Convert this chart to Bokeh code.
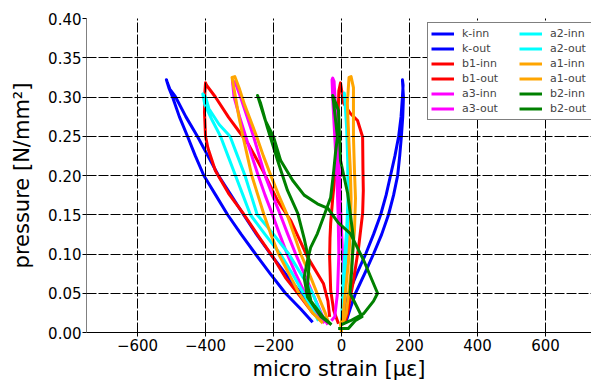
from bokeh.plotting import figure
from bokeh.models import FixedTicker, Range1d, Legend, LegendItem, PrintfTickFormatter
from bokeh.embed import file_html
from bokeh.resources import INLINE

# ---------------- data ----------------
x_ticks = [-600, -400, -200, 0, 200, 400, 600]
x_tick_labels = ["\u2212600", "\u2212400", "\u2212200", "0", "200", "400", "600"]
y_ticks = [0.0, 0.05, 0.10, 0.15, 0.20, 0.25, 0.30, 0.35, 0.40]

k_inn_x = [-85, -120, -165, -210, -253, -295, -335, -370, -405, -430, -453, -477, -497, -508, -515,
           -512, -505, -488, -458, -424, -393, -362, -325, -288, -250, -209, -165, -120, -90, -70]
k_inn_y = [0.013, 0.030, 0.050, 0.075, 0.100, 0.125, 0.150, 0.175, 0.200, 0.225, 0.250, 0.275, 0.300, 0.312, 0.322,
           0.318, 0.310, 0.300, 0.275, 0.250, 0.225, 0.200, 0.175, 0.150, 0.125, 0.100, 0.075, 0.050, 0.030, 0.020]

k_out_x = [5, 12, 21, 45, 71, 94, 115, 131, 144, 157, 168, 175, 179, 181, 179,
           182, 180, 176, 171, 165, 153, 138, 118, 94, 68, 41, 25, 12]
k_out_y = [0.010, 0.030, 0.050, 0.075, 0.100, 0.125, 0.150, 0.175, 0.200, 0.225, 0.250, 0.275, 0.300, 0.315, 0.322,
           0.300, 0.275, 0.250, 0.225, 0.200, 0.175, 0.150, 0.125, 0.100, 0.075, 0.050, 0.030, 0.012]

b1_inn_x = [-60, -85, -120, -165, -200, -240, -288, -332, -371, -393, -400, -403, -402, -400,
            -397, -371, -332, -303, -274, -230, -188, -150, -100, -53, -40, -35]
b1_inn_y = [0.015, 0.025, 0.045, 0.070, 0.095, 0.120, 0.151, 0.177, 0.206, 0.235, 0.250, 0.280, 0.305, 0.318,
            0.315, 0.300, 0.274, 0.257, 0.240, 0.205, 0.168, 0.143, 0.096, 0.062, 0.040, 0.020]

b1_out_x = [-9, -23, -32, -35, -34, -32, -26, -18, -12, -8, -3,
            6, 26, 47, 62, 63, 64, 62, 50, 35, 26, 18, 10]
b1_out_y = [0.011, 0.028, 0.054, 0.096, 0.120, 0.139, 0.171, 0.206, 0.249, 0.308, 0.318,
            0.292, 0.279, 0.270, 0.249, 0.206, 0.181, 0.152, 0.108, 0.066, 0.045, 0.025, 0.012]

a3_inn_x = [-50, -75, -108, -135, -160, -182, -203, -225, -245, -264, -282, -300, -316, -321,
            -312, -297, -278, -259, -242, -225, -203, -180, -158, -135, -110, -85, -55, -40]
a3_inn_y = [0.012, 0.025, 0.050, 0.075, 0.100, 0.125, 0.150, 0.175, 0.200, 0.225, 0.250, 0.275, 0.300, 0.321,
            0.318, 0.300, 0.275, 0.250, 0.225, 0.200, 0.175, 0.150, 0.125, 0.100, 0.075, 0.050, 0.020, 0.010]

a3_out_x = [-30, -20, -12, -8, -10, -14, -20, -25, -28,
            -26, -22, -18, -12, -6, -2, 3, 8, 5, 0]
a3_out_y = [0.015, 0.020, 0.050, 0.100, 0.150, 0.200, 0.250, 0.290, 0.322,
            0.324, 0.320, 0.290, 0.250, 0.200, 0.150, 0.100, 0.050, 0.020, 0.010]

a2_inn_x = [-68, -80, -112, -145, -180, -225, -268, -290, -312, -334, -356, -380, -402, -408,
            -400, -390, -360, -328, -306, -284, -266, -248, -200, -155, -120, -85, -62, -55]
a2_inn_y = [0.015, 0.025, 0.050, 0.075, 0.100, 0.125, 0.150, 0.175, 0.200, 0.225, 0.250, 0.270, 0.290, 0.304,
            0.300, 0.285, 0.265, 0.250, 0.225, 0.200, 0.175, 0.150, 0.125, 0.100, 0.075, 0.050, 0.025, 0.018]

a2_out_x = [0, 3, 8, 15, 19, 18, 15, 10, 8,
            13, 18, 22, 25, 22, 14, 8, 5]
a2_out_y = [0.010, 0.050, 0.090, 0.130, 0.170, 0.220, 0.260, 0.295, 0.305,
            0.290, 0.260, 0.220, 0.180, 0.130, 0.088, 0.054, 0.020]

a1_inn_x = [-55, -85, -125, -155, -185, -208, -228, -246, -264, -277, -290, -302, -312, -322,
            -314, -300, -285, -250, -230, -208, -185, -160, -140, -120, -95, -72, -48, -38]
a1_inn_y = [0.012, 0.025, 0.050, 0.075, 0.100, 0.125, 0.150, 0.175, 0.200, 0.225, 0.250, 0.275, 0.300, 0.325,
            0.326, 0.310, 0.290, 0.250, 0.225, 0.200, 0.175, 0.150, 0.125, 0.100, 0.075, 0.050, 0.025, 0.012]

a1_out_x = [0, -3, 5, 12, 20, 26, 28, 26, 21, 17, 22,
            28, 35, 35, 35, 38, 41, 38, 30, 22, 14, 5]
a1_out_y = [0.000, 0.010, 0.024, 0.054, 0.088, 0.130, 0.171, 0.206, 0.249, 0.292, 0.325,
            0.326, 0.312, 0.280, 0.249, 0.206, 0.171, 0.130, 0.088, 0.054, 0.024, 0.012]

b2_inn_x = [-30, -53, -90, -100, -95, -110, -129, -159, -188, -218, -238, -247,
            -224, -200, -179, -144, -110, -71, -40, -10, 26, 65, 106, 94, 65, 26, 0]
b2_inn_y = [0.010, 0.019, 0.040, 0.060, 0.090, 0.120, 0.152, 0.181, 0.219, 0.261, 0.292, 0.302,
            0.270, 0.249, 0.219, 0.194, 0.175, 0.164, 0.158, 0.140, 0.126, 0.092, 0.050, 0.040, 0.024, 0.015, 0.010]

b2_out_x = [-10, 20, 40, 60, 25, 30, 35, 18, -3, -9, -26,
            -23, -12, -18, -23, -32, -53, -71, -91, -100, -110, -100, -60, -30]
b2_out_y = [0.005, 0.005, 0.015, 0.020, 0.050, 0.080, 0.120, 0.177, 0.219, 0.283, 0.302,
            0.292, 0.249, 0.228, 0.206, 0.172, 0.147, 0.126, 0.108, 0.092, 0.070, 0.045, 0.020, 0.010]

names = ["k-inn", "k-out", "b1-inn", "b1-out", "a3-inn", "a3-out",
         "a2-inn", "a2-out", "a1-inn", "a1-out", "b2-inn", "b2-out"]
colors = ["#0000ff", "#0000ff", "#ff0000", "#ff0000", "#ff00ff", "#ff00ff",
          "#00ffff", "#00ffff", "#ffa500", "#ffa500", "#008000", "#008000"]
xs = [k_inn_x, k_out_x, b1_inn_x, b1_out_x, a3_inn_x, a3_out_x,
      a2_inn_x, a2_out_x, a1_inn_x, a1_out_x, b2_inn_x, b2_out_x]
ys = [k_inn_y, k_out_y, b1_inn_y, b1_out_y, a3_inn_y, a3_out_y,
      a2_inn_y, a2_out_y, a1_inn_y, a1_out_y, b2_inn_y, b2_out_y]

# ---------------- figure ----------------
p = figure(width=591, height=383, output_backend="svg", toolbar_location=None,
           x_range=Range1d(-750, 735), y_range=Range1d(0, 0.40),
           min_border_left=86, min_border_right=0, min_border_top=18, min_border_bottom=51)
p.outline_line_color = None
p.background_fill_color = "white"

items = []
for name, c, x, y in zip(names, colors, xs, ys):
    r = p.line(x, y, line_color=c, line_width=3, line_join="round")
    items.append(LegendItem(label=name, renderers=[r]))

font = "DejaVu Sans"
p.xaxis.ticker = FixedTicker(ticks=x_ticks)
p.yaxis.ticker = FixedTicker(ticks=y_ticks)
p.xaxis.major_label_overrides = dict(zip(x_ticks, x_tick_labels))
p.yaxis.formatter = PrintfTickFormatter(format="%.2f")
for ax in (p.xaxis[0], p.yaxis[0]):
    ax.major_label_text_font = font
    ax.major_label_text_font_size = "15px"
    ax.major_label_text_color = "black"
    ax.axis_label_text_font = font
    ax.axis_label_text_font_size = "21px"
    ax.axis_label_text_font_style = "normal"
    ax.axis_label_text_color = "black"
    ax.major_tick_out = 4
    ax.major_tick_in = 0
    ax.minor_tick_out = 0
    ax.minor_tick_in = 0
    ax.major_tick_line_color = "black"
p.xaxis.axis_line_color = "black"
p.yaxis.axis_line_color = "#808080"
p.xaxis.axis_label = "micro strain [\u03bc\u03b5]"
p.yaxis.axis_label = "pressure [N/mm\u00b2]"
p.xaxis.major_label_standoff = 2
p.xaxis.axis_label_standoff = 3
p.yaxis.major_label_standoff = 1
p.yaxis.axis_label_standoff = 11

p.xgrid.ticker = FixedTicker(ticks=x_ticks)
p.ygrid.ticker = FixedTicker(ticks=y_ticks)
for g in (p.xgrid[0], p.ygrid[0]):
    g.grid_line_color = "black"
    g.grid_line_dash = "10 2"
    g.grid_line_width = 1
    g.level = "guide"

legend = Legend(items=items, ncols=2, location=(341, 212))
legend.label_text_font = font
legend.label_text_font_size = "11px"
legend.glyph_width = 23
legend.glyph_height = 15
legend.label_height = 15
legend.label_width = 57
legend.label_standoff = 8
legend.spacing = 0
legend.padding = 3
legend.margin = 0
legend.border_line_color = "black"
legend.border_line_width = 1
legend.background_fill_alpha = 1
p.add_layout(legend)

open("out.html", "w").write(file_html(p, INLINE))
